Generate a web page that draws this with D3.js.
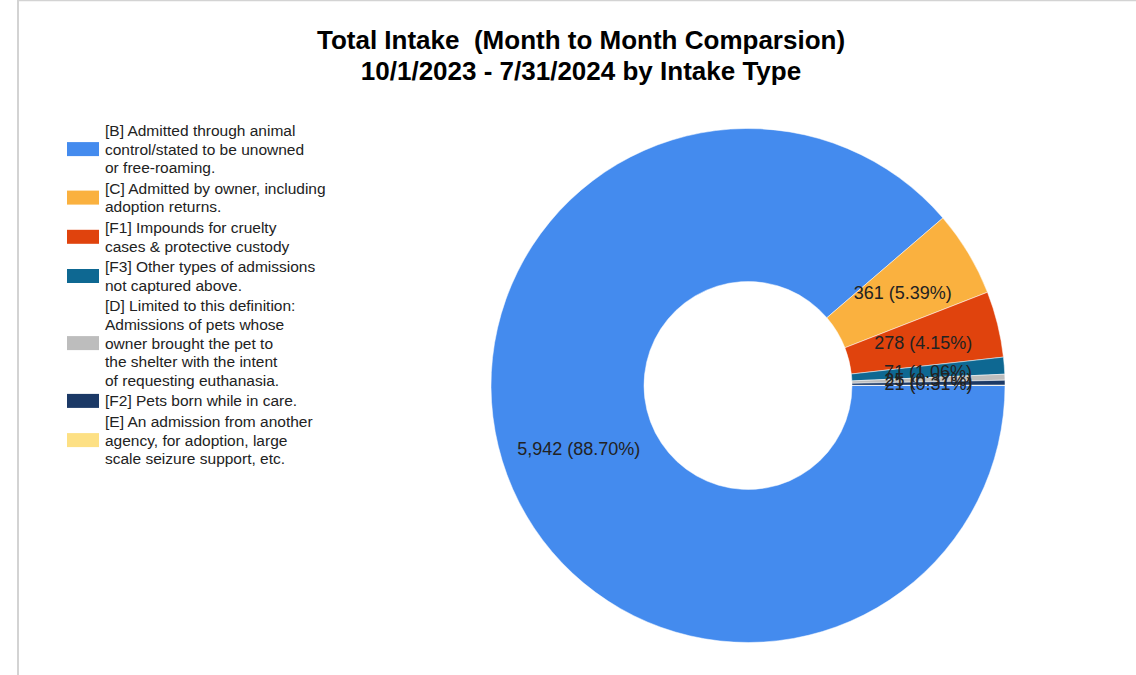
<!DOCTYPE html>
<html>
<head>
<meta charset="utf-8">
<script src="https://cdn.jsdelivr.net/npm/d3@7"></script>
<style>
    body { margin: 0; background: #fff; }
    svg { display: block; }
    .title { white-space: pre; }
</style>
</head>
<body>
<svg id="chart" width="1136" height="675"></svg>
<script>
// Chart data
let categories = ['B', 'C', 'F1', 'F3', 'D', 'F2', 'E'];
let values = [5942, 361, 278, 71, 25, 21, 1];
let colors = ['#448bee', '#fab13f', '#e0430d', '#0e6892', '#bdbdbd', '#1b3966', '#fde084'];
let legendLines = [
    ['[B] Admitted through animal', 'control/stated to be unowned', 'or free-roaming.'],
    ['[C] Admitted by owner, including', 'adoption returns.'],
    ['[F1] Impounds for cruelty', 'cases & protective custody'],
    ['[F3] Other types of admissions', 'not captured above.'],
    ['[D] Limited to this definition:', 'Admissions of pets whose', 'owner brought the pet to', 'the shelter with the intent', 'of requesting euthanasia.'],
    ['[F2] Pets born while in care.'],
    ['[E] An admission from another', 'agency, for adoption, large', 'scale seizure support, etc.']
];
let titleLines = ['Total Intake  (Month to Month Comparsion)', '10/1/2023 - 7/31/2024 by Intake Type'];

let svg = d3.select('#chart');
let font = '"Liberation Sans", Arial, sans-serif';

// frame on the left and top
svg.append('line')
    .attr('x1', 18).attr('y1', 0).attr('x2', 18).attr('y2', 675)
    .attr('stroke', '#d3d3d3').attr('stroke-width', 2);
svg.append('line')
    .attr('x1', 17).attr('y1', 0.5).attr('x2', 1136).attr('y2', 0.5)
    .attr('stroke', '#d3d3d3').attr('stroke-width', 1.5);

// Title
svg.append('g')
    .selectAll('text')
    .data(titleLines)
    .join('text')
    .attr('class', 'title')
    .attr('x', 581)
    .attr('y', (d, i) => 49 + i * 30.5)
    .attr('text-anchor', 'middle')
    .attr('font-family', font)
    .attr('font-weight', 'bold')
    .attr('font-size', 26)
    .attr('fill', '#000')
    .text(d => d);

// Donut
let cx = 748, cy = 385.5;
let outerR = 257, innerR = 104;
let total = d3.sum(values);

let pie = d3.pie()
    .value(d => d)
    .sort(null)
    .startAngle(Math.PI / 2)
    .endAngle(Math.PI / 2 + 2 * Math.PI);

let arc = d3.arc().innerRadius(innerR).outerRadius(outerR);
let labelArc = d3.arc().innerRadius((innerR + outerR) / 2).outerRadius((innerR + outerR) / 2);

let arcs = pie(values);
let g = svg.append('g').attr('transform', `translate(${cx},${cy})`);

g.selectAll('path')
    .data(arcs)
    .join('path')
    .attr('d', arc)
    .attr('fill', (d, i) => colors[i])
    .attr('stroke', '#fff')
    .attr('stroke-width', 0.5);

// slice labels (the tiny ones overlap, as in the original)
let fmt = d3.format(',');
g.selectAll('text')
    .data(arcs.filter(d => d.data / total >= 0.002))
    .join('text')
    .attr('transform', d => `translate(${labelArc.centroid(d)})`)
    .attr('text-anchor', 'middle')
    .attr('dy', '0.35em')
    .attr('font-family', font)
    .attr('font-size', 18)
    .attr('fill', '#222')
    .text(d => `${fmt(d.data)} (${(d.data / total * 100).toFixed(2)}%)`);

// Legend
let lineH = 18.6, groupGap = 2;
let y = 130.5;
let legend = svg.append('g');
legendLines.forEach((lines, i) => {
    let first = y;
    let last = y + (lines.length - 1) * lineH;
    legend.append('rect')
        .attr('x', 67)
        .attr('y', (first + last) / 2 - 7)
        .attr('width', 32)
        .attr('height', 14)
        .attr('fill', colors[i]);
    lines.forEach((txt, j) => {
        legend.append('text')
            .attr('x', 105)
            .attr('y', first + j * lineH)
            .attr('dy', '0.35em')
            .attr('font-family', font)
            .attr('font-size', 15.5)
            .attr('fill', '#222')
            .text(txt);
    });
    y = last + lineH + groupGap;
});
</script>
</body>
</html>
